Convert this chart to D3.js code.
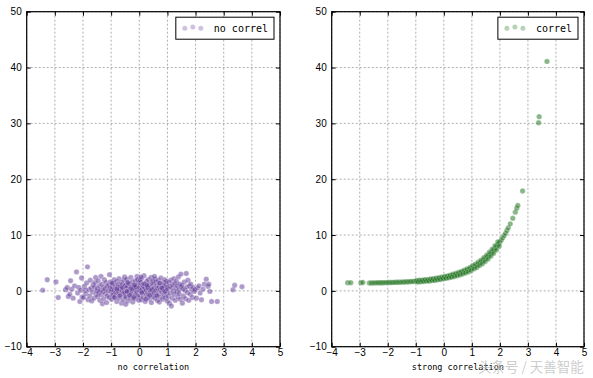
<!DOCTYPE html>
<html>
<head>
<meta charset="utf-8">
<script src="https://cdn.jsdelivr.net/npm/d3@7"></script>
<style>
body { margin: 0; background: #fff; }
svg { display: block; }
</style>
</head>
<body>
<div id="chart"></div>
<script>
const xTicks = [-4, -3, -2, -1, 0, 1, 2, 3, 4, 5];
const yTicks = [-10, 0, 10, 20, 30, 40, 50];

// left panel: cloud with no correlation
const noCorrX = [
    -3.43, -3.27, -2.96, -2.88, -2.62, -2.56, -2.52,
    -2.47, -2.44, -2.40, -2.35, -2.30, -2.23, -2.19, -2.15, -2.11, -2.08, -2.05, -2.03,
    -1.98, -1.95, -1.92, -1.90, -1.87, -1.84, -1.82, -1.79, -1.76, -1.74, -1.71, -1.69, -1.66, -1.64, -1.61, -1.59, -1.57, -1.55, -1.53, -1.51,
    -1.49, -1.48, -1.46, -1.44, -1.42, -1.40, -1.38, -1.36, -1.35, -1.33, -1.31, -1.29, -1.27, -1.26, -1.24, -1.22, -1.20, -1.18, -1.16, -1.15, -1.13, -1.11, -1.09, -1.07, -1.06, -1.04, -1.02, -1.01,
    -0.99, -0.98, -0.96, -0.95, -0.93, -0.92, -0.90, -0.89, -0.87, -0.86, -0.84, -0.83, -0.81, -0.80, -0.78, -0.77, -0.75, -0.74, -0.72, -0.71,
    -0.69, -0.68, -0.66, -0.65, -0.63, -0.62, -0.60, -0.59, -0.57, -0.56, -0.55, -0.54, -0.53, -0.52, -0.51, -0.97, -0.88, -0.79, -0.70, -0.61,
    -0.50, -0.49, -0.47, -0.46, -0.45, -0.43, -0.42, -0.40, -0.39, -0.38, -0.36, -0.35, -0.33, -0.32, -0.30, -0.29, -0.28, -0.26, -0.25, -0.23,
    -0.22, -0.21, -0.19, -0.18, -0.16, -0.15, -0.14, -0.12, -0.11, -0.09, -0.08, -0.07, -0.05, -0.04, -0.02, -0.01, -0.48, -0.41, -0.34, -0.27,
    -0.20, -0.13, -0.06, -0.44, -0.17,
    0.01, 0.02, 0.04, 0.05, 0.07, 0.08, 0.10, 0.11, 0.12, 0.14, 0.15, 0.17, 0.18, 0.19, 0.21, 0.22, 0.24, 0.25, 0.26, 0.28,
    0.29, 0.31, 0.32, 0.33, 0.35, 0.36, 0.38, 0.39, 0.40, 0.42, 0.43, 0.45, 0.46, 0.47, 0.49, 0.03, 0.09, 0.16, 0.23, 0.30,
    0.37, 0.44, 0.06, 0.27, 0.48,
    0.50, 0.52, 0.53, 0.55, 0.56, 0.58, 0.59, 0.61, 0.62, 0.64, 0.65, 0.67, 0.68, 0.70, 0.71, 0.73, 0.74, 0.76, 0.77, 0.79,
    0.80, 0.82, 0.83, 0.85, 0.86, 0.88, 0.89, 0.91, 0.92, 0.94, 0.95, 0.97, 0.98, 0.99, 0.54, 0.63, 0.72, 0.81, 0.90, 0.96,
    1.01, 1.03, 1.05, 1.07, 1.08, 1.10, 1.12, 1.14, 1.15, 1.17, 1.19, 1.21, 1.23, 1.24, 1.26, 1.28, 1.30, 1.32, 1.33, 1.35,
    1.37, 1.39, 1.41, 1.42, 1.44, 1.46, 1.48, 1.49,
    1.51, 1.53, 1.55, 1.57, 1.60, 1.62, 1.64, 1.67, 1.69, 1.71, 1.73, 1.76, 1.78, 1.81, 1.83, 1.86, 1.89, 1.92, 1.95, 1.98,
    2.03, 2.07, 2.12, 2.16, 2.21, 2.26, 2.31, 2.38, 2.44, 2.47,
    2.51, 2.57, 2.77, 3.33, 3.39, 3.65
];
const noCorrY = [
    0.1, 2.0, 1.6, -1.2, 0.2, 0.6, -1.0,
    -0.6, 1.8, 0.3, -1.3, 0.9, 3.4, -0.4, 0.6, -1.9, 0.1, 2.3, -1.1,
    -1.2, 0.8, 0.1, -0.5, 1.4, 4.3, -1.6, 0.2, -0.9, 1.9, 0.5, -1.8, -0.2, 1.1, -1.3, 0.7, 1.5, 2.4, -0.6, 0.0,
    0.4, -1.0, 1.8, -0.3, 0.9, -1.7, 0.1, 2.6, -0.7, 1.2, -2.3, -0.1, 0.6, -1.4, 2.0, 0.3, -0.5, 1.5, -2.1, 0.8, -0.9, 0.0, 1.0, -1.2, 2.9, 0.5, 1.6, -0.2,
    0.2, -1.5, 0.7, -0.8, 1.3, -0.6, 0.1, 2.0, -1.1, 0.9, -0.3, 0.4, 1.7, -1.9, 0.6, -0.4, 1.1, -0.1, 2.2, -1.3,
    0.3, 0.8, -0.7, 1.5, -2.2, 0.0, 1.2, -0.5, 0.5, -1.6, 1.9, -0.2, 0.9, 2.5, -1.0, 1.4, -1.2, 0.3, -0.9, 0.6,
    -0.4, 1.0, -1.1, 0.5, 2.1, -0.2, 0.8, -1.8, 1.4, 0.0, -0.7, 1.2, 0.4, -1.3, 2.4, -0.5, 0.7, -0.1, 1.6, -2.0,
    0.3, -0.9, 1.1, 0.6, -1.4, 0.2, 1.8, -0.6, 0.9, -0.3, 2.6, -1.0, 0.5, 1.3, -1.7, 0.1, -2.4, 1.5, -0.8, 0.4,
    -1.2, 0.7, 2.0, -0.1, 1.0,
    0.6, -0.9, 1.4, 0.0, -1.6, 2.2, 0.3, -0.4, 1.0, -1.2, 0.8, 2.7, -0.2, 0.5, -1.9, 1.2, 0.1, -0.7, 1.7, 0.9,
    -1.1, 0.4, 2.0, -0.5, 1.1, -1.4, 0.2, 0.7, -0.1, 2.4, -2.1, 1.5, -0.6, 0.3, -1.0, 1.9, -0.3, 1.3, -1.5, 0.6,
    -0.8, 0.2, 2.5, 1.0, 1.8,
    1.2, -0.3, 0.5, -1.3, 2.1, 0.0, 1.6, -0.8, 0.9, -1.7, 0.4, 1.9, -0.5, 0.7, -2.0, 1.3, 0.2, -1.1, 2.3, 0.6,
    -0.2, 1.0, -1.5, 0.3, 1.5, -0.7, 0.8, 2.0, -1.2, 0.1, 1.1, -0.4, 0.6, -1.8, 2.6, -0.9, 1.4, 0.5, -0.1, 1.7,
    0.3, -1.0, 1.5, -2.2, 0.8, -0.4, 1.9, -2.7, 0.6, -1.3, 1.1, 0.0, 2.2, -0.6, 1.3, -1.7, 0.5, 1.7, -0.2, 0.9,
    -1.1, 2.5, 0.2, -0.5, 1.2, -1.5, 3.0, 0.7,
    1.0, -2.2, 0.4, -0.9, 1.6, 0.1, -1.4, 3.1, 0.7, -0.3, 1.9, -1.7, 0.9, -0.6, 1.2, 0.3, -1.2, 0.6, -0.1, 0.2,
    -1.3, 0.5, 0.9, -0.4, -1.6, 0.3, 1.2, 2.1, 0.8, 1.2,
    -0.1, -1.9, -1.9, 0.2, 1.0, 0.75
];

// right panel: strong correlation
const corrX = [
    -3.43, -3.32, -2.96, -2.89,
    -2.66, -2.60, -2.55, -2.50, -2.45, -2.40, -2.35, -2.30, -2.25, -2.20, -2.15, -2.10, -2.05, -2.00,
    -1.95, -1.90, -1.85, -1.80, -1.75, -1.70, -1.65, -1.60, -1.55, -1.50, -1.45, -1.40, -1.35, -1.30,
    -1.25, -1.20, -1.15, -1.10, -1.05, -1.00, -0.95, -0.90, -0.85, -0.80, -0.75, -0.70, -0.65, -0.60,
    -0.55, -0.50, -0.45, -0.40, -0.35, -0.30, -0.25, -0.20, -0.15, -0.10, -0.05, 0.00, 0.05, 0.10,
    0.15, 0.20, 0.25, 0.30, 0.35, 0.40, 0.45, 0.50, 0.55, 0.60, 0.65, 0.70, 0.75, 0.80, 0.85, 0.90,
    0.95, 1.00, 1.05, 1.10, 1.15, 1.20, 1.25, 1.30, 1.35, 1.40, 1.45, 1.50, 1.55, 1.60, 1.65, 1.70,
    1.75, 1.80, 1.85, 1.90, 1.95, 2.00, 2.05, 2.10, 2.15, 2.20, 2.25, 2.30, 2.37, 2.46, 2.55, 2.60,
    2.64, 2.81, 3.38, 3.40, 3.68,
    -0.975, -0.925, -0.875, -0.825, -0.775, -0.725, -0.675, -0.625, -0.575, -0.525, -0.475, -0.425,
    -0.375, -0.325, -0.275, -0.225, -0.175, -0.125, -0.075, -0.025, 0.025, 0.075, 0.125, 0.175,
    0.225, 0.275, 0.325, 0.375, 0.425, 0.475, 0.525, 0.575, 0.625, 0.675, 0.725, 0.775, 0.825, 0.875,
    0.925, 0.975, 1.025, 1.075, 1.125, 1.175, 1.225, 1.275, 1.325, 1.375, 1.425, 1.475, 1.525, 1.575,
    1.625, 1.675, 1.725, 1.775, 1.825, 1.875, 1.925, 1.975
];
const corrY = [
    1.45, 1.45, 1.45, 1.5,
    1.42, 1.42, 1.43, 1.43, 1.44, 1.44, 1.45, 1.45, 1.46, 1.46, 1.47, 1.47, 1.48, 1.49,
    1.49, 1.50, 1.51, 1.52, 1.52, 1.53, 1.54, 1.55, 1.56, 1.57, 1.58, 1.60, 1.61, 1.62,
    1.64, 1.65, 1.67, 1.68, 1.70, 1.72, 1.74, 1.76, 1.78, 1.80, 1.82, 1.85, 1.87, 1.90,
    1.93, 1.96, 1.99, 2.02, 2.05, 2.09, 2.13, 2.17, 2.21, 2.25, 2.30, 2.35, 2.40, 2.46,
    2.51, 2.57, 2.63, 2.70, 2.77, 2.84, 2.92, 3.00, 3.08, 3.17, 3.27, 3.36, 3.47, 3.58, 3.69, 3.81,
    3.94, 4.07, 4.21, 4.35, 4.51, 4.67, 4.84, 5.02, 5.21, 5.41, 5.61, 5.83, 6.06, 6.30, 6.56, 6.82,
    7.11, 7.40, 7.71, 8.04, 8.38, 8.74, 9.1, 9.5, 9.9, 10.3, 10.8, 11.3, 12.0, 13.0, 14.1, 14.8,
    15.3, 17.9, 30.1, 31.2, 41.1,
    1.83, 1.60, 1.92, 1.64, 1.91, 1.68, 2.01, 1.74, 2.01, 1.74, 2.12, 1.85,
    2.19, 1.87, 2.26, 2.00, 2.34, 2.03, 2.43, 2.18, 2.58, 2.23, 2.68, 2.34,
    2.80, 2.42, 2.98, 2.56, 3.13, 2.71, 3.29, 2.83, 3.47, 3.01, 3.72, 3.22, 3.93, 3.40,
    4.17, 3.65, 4.49, 3.93, 4.78, 4.19, 5.15, 4.53, 5.51, 4.86, 5.96, 5.27, 6.40, 5.68,
    6.93, 6.19, 7.46, 6.70, 8.10, 7.32, 8.76, 8.01
];

const svgWidth = 593;
const svgHeight = 378;
const plotTop = 11.7;
const plotBottom = 346.7;

const panels = [
    { left: 26.7, right: 280, xs: noCorrX, ys: noCorrY, color: '#5e3596', alpha: 0.5, legend: 'no correl', xlabel: 'no correlation' },
    { left: 331.7, right: 584, xs: corrX, ys: corrY, color: '#146b14', alpha: 0.5, legend: 'correl', xlabel: 'strong correlation' }
];

const svg = d3
    .select('#chart')
    .append('svg')
    .attr('width', svgWidth)
    .attr('height', svgHeight);

panels.forEach(p => {
    const x = d3.scaleLinear().domain([-4, 5]).range([p.left, p.right]);
    const y = d3.scaleLinear().domain([-10, 50]).range([plotBottom, plotTop]);
    const g = svg.append('g');

    // dashed grid
    g.append('g')
        .selectAll('line')
        .data(xTicks)
        .enter()
        .append('line')
        .attr('x1', d => x(d))
        .attr('x2', d => x(d))
        .attr('y1', plotTop)
        .attr('y2', plotBottom)
        .attr('stroke', '#999')
        .attr('stroke-width', 0.8)
        .attr('stroke-dasharray', '2,2');
    g.append('g')
        .selectAll('line')
        .data(yTicks)
        .enter()
        .append('line')
        .attr('x1', p.left)
        .attr('x2', p.right)
        .attr('y1', d => y(d))
        .attr('y2', d => y(d))
        .attr('stroke', '#999')
        .attr('stroke-width', 0.8)
        .attr('stroke-dasharray', '2,2');

    // points
    g.append('g')
        .selectAll('circle')
        .data(d3.zip(p.xs, p.ys))
        .enter()
        .append('circle')
        .attr('cx', d => x(d[0]))
        .attr('cy', d => y(d[1]))
        .attr('r', 2.7)
        .attr('fill', p.color)
        .attr('fill-opacity', p.alpha)
        .attr('stroke', '#fff')
        .attr('stroke-opacity', 0.5)
        .attr('stroke-width', 0.5);

    // axes, ticks point inward
    const fmt = d3.format('d');
    const styleAxis = sel => {
        sel.select('.domain').remove();
        sel.selectAll('line').attr('stroke', '#000');
        sel.selectAll('text')
            .attr('font-family', '"Liberation Sans", Arial, sans-serif')
            .attr('font-size', 10)
            .attr('fill', '#000');
    };
    g.append('g')
        .attr('transform', `translate(0,${plotBottom})`)
        .call(d3.axisBottom(x).tickValues(xTicks).tickFormat(fmt).tickSizeInner(-4).tickSizeOuter(0).tickPadding(2))
        .call(styleAxis);
    g.append('g')
        .attr('transform', `translate(0,${plotTop})`)
        .call(d3.axisTop(x).tickValues(xTicks).tickFormat('').tickSizeInner(-4).tickSizeOuter(0))
        .call(styleAxis);
    g.append('g')
        .attr('transform', `translate(${p.left},0)`)
        .call(d3.axisLeft(y).tickValues(yTicks).tickFormat(fmt).tickSizeInner(-4).tickSizeOuter(0).tickPadding(5))
        .call(styleAxis);
    g.append('g')
        .attr('transform', `translate(${p.right},0)`)
        .call(d3.axisRight(y).tickValues(yTicks).tickFormat('').tickSizeInner(-4).tickSizeOuter(0))
        .call(styleAxis);

    // frame
    g.append('rect')
        .attr('x', p.left)
        .attr('y', plotTop)
        .attr('width', p.right - p.left)
        .attr('height', plotBottom - plotTop)
        .attr('fill', 'none')
        .attr('stroke', '#000')
        .attr('stroke-width', 1.2);

    // x label
    g.append('text')
        .attr('x', (p.left + p.right) / 2)
        .attr('y', 370)
        .attr('text-anchor', 'middle')
        .attr('font-family', '"DejaVu Sans Mono", monospace')
        .attr('font-size', 8.5)
        .text(p.xlabel);

    // legend
    const lg = g.append('g');
    const box = lg.append('rect')
        .attr('y', plotTop + 5.5)
        .attr('height', 22)
        .attr('fill', '#fff')
        .attr('stroke', '#000')
        .attr('stroke-width', 1);
    const label = lg.append('text')
        .attr('y', plotTop + 20)
        .attr('font-family', '"DejaVu Sans Mono", monospace')
        .attr('font-size', 10)
        .text(p.legend);
    const tw = label.node().getComputedTextLength();
    const boxW = 38 + tw + 6;
    const boxX = p.right - 6 - boxW;
    box.attr('x', boxX).attr('width', boxW);
    label.attr('x', boxX + 38);
    lg.selectAll('circle')
        .data([[9, 0.6], [17, -0.6], [25, 0.6]])
        .enter()
        .append('circle')
        .attr('cx', d => boxX + d[0])
        .attr('cy', d => plotTop + 16 + d[1])
        .attr('r', 2.5)
        .attr('fill', p.color)
        .attr('fill-opacity', 0.3);
});

// watermark
svg.append('text')
    .attr('x', 478)
    .attr('y', 372)
    .attr('font-family', '"Noto Sans CJK SC", sans-serif')
    .attr('font-size', 13.5)
    .attr('fill', '#bbb')
    .attr('fill-opacity', 0.75)
    .text('头条号 / 天善智能');
</script>
</body>
</html>
